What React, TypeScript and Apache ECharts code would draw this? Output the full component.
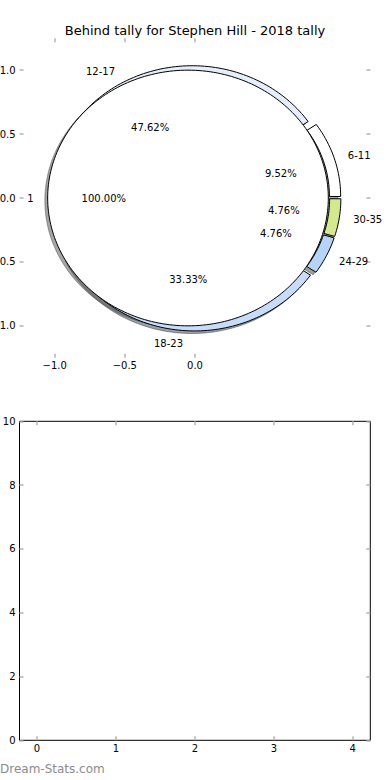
import React, { useEffect, useRef } from 'react';
import * as echarts from 'echarts';

// ---------- data ----------
const chartTitle = 'Behind tally for Stephen Hill - 2018 tally';
const outerLabels = ['6-11', '12-17', '18-23', '24-29', '30-35'];
const outerCounts = [2, 10, 7, 1, 1];
const innerLabels = ['1'];
const innerCounts = [21];
const pieXTicks = [-1, -0.5, 0];
const pieYTicks = [-1, -0.5, 0, 0.5, 1];
const lowerXTicks = [0, 1, 2, 3, 4];
const watermark = 'Dream-Stats.com';

// ---------- styles ----------
const outerColors = ['#ffffff', '#e6eefc', '#c6dcfa', '#b6d4f8', '#d4e98e'];
const innerColors = ['#ffffff'];
const FONT = 'DejaVu Sans';
const TICK_COLOR = '#b4b4b4';

type Ring = {
  labels: string[];
  counts: number[];
  colors: string[];
  radius: number;
  width: number;
  explode: number;
};

const outerRing: Ring = { labels: outerLabels, counts: outerCounts, colors: outerColors, radius: 1, width: 0.08, explode: 0.04 };
const innerRing: Ring = { labels: innerLabels, counts: innerCounts, colors: innerColors, radius: 1, width: 0, explode: 0.05 };
const SHADOW_OFFSET = [-0.02, -0.02];

function spans(counts: number[]) {
  const total = counts.reduce((a, b) => a + b, 0);
  let acc = 0;
  return counts.map((c) => {
    const t1 = (acc / total) * 360;
    acc += c;
    const t2 = (acc / total) * 360;
    return { t1, t2, frac: c / total };
  });
}

function wedgePoints(cx: number, cy: number, r: number, w: number, t1: number, t2: number) {
  const pts: number[][] = [];
  const n = Math.max(8, Math.ceil((t2 - t1) / 1.5));
  for (let k = 0; k <= n; k++) {
    const a = ((t1 + ((t2 - t1) * k) / n) * Math.PI) / 180;
    pts.push([cx + r * Math.cos(a), cy + r * Math.sin(a)]);
  }
  if (w > 0) {
    const ri = r - w;
    for (let k = n; k >= 0; k--) {
      const a = ((t1 + ((t2 - t1) * k) / n) * Math.PI) / 180;
      pts.push([cx + ri * Math.cos(a), cy + ri * Math.sin(a)]);
    }
  } else if (t2 - t1 < 359.999) {
    pts.push([cx, cy]);
  }
  return pts;
}

function shadowColor(hex: string) {
  const v = parseInt(hex.slice(1), 16);
  const r = Math.round(((v >> 16) & 255) * 0.3);
  const g = Math.round(((v >> 8) & 255) * 0.3);
  const b = Math.round((v & 255) * 0.3);
  return `rgba(${r},${g},${b},0.5)`;
}

function wedgeCenter(ring: Ring, i: number) {
  const s = spans(ring.counts)[i];
  const tm = (((s.t1 + s.t2) / 2) * Math.PI) / 180;
  return { cx: ring.explode * Math.cos(tm), cy: ring.explode * Math.sin(tm), tm, s };
}

function wedgeLayer(ring: Ring, shadow: boolean) {
  return {
    type: 'custom',
    xAxisIndex: 0,
    yAxisIndex: 0,
    clip: false,
    silent: true,
    z: 3,
    data: ring.counts.map((c) => [0, 0, c]),
    renderItem: (params: any, api: any) => {
      const i = params.dataIndex;
      const { cx, cy, s } = wedgeCenter(ring, i);
      const ox = shadow ? SHADOW_OFFSET[0] : 0;
      const oy = shadow ? SHADOW_OFFSET[1] : 0;
      const pts = wedgePoints(cx + ox, cy + oy, ring.radius, ring.width, s.t1, s.t2).map((p) => api.coord(p));
      const fill = shadow ? shadowColor(ring.colors[i]) : ring.colors[i];
      return {
        type: 'polygon',
        shape: { points: pts },
        style: { fill, stroke: shadow ? fill : '#000', lineWidth: 1 },
      };
    },
  };
}

function labelLayer(ring: Ring) {
  return {
    type: 'custom',
    xAxisIndex: 0,
    yAxisIndex: 0,
    clip: false,
    silent: true,
    z: 3,
    data: ring.counts.map((c) => [0, 0, c]),
    renderItem: (params: any, api: any) => {
      const i = params.dataIndex;
      const { cx, cy, tm, s } = wedgeCenter(ring, i);
      const lx = cx + 1.1 * ring.radius * Math.cos(tm);
      const ly = cy + 1.1 * ring.radius * Math.sin(tm);
      const px = cx + 0.6 * ring.radius * Math.cos(tm);
      const py = cy + 0.6 * ring.radius * Math.sin(tm);
      const lp = api.coord([lx, ly]);
      const pp = api.coord([px, py]);
      const align = lx > 0 ? 'left' : 'right';
      return {
        type: 'group',
        children: [
          {
            type: 'text',
            x: lp[0],
            y: lp[1],
            style: { text: ring.labels[i], fill: '#000', font: `10px "${FONT}"`, align, textAlign: align, verticalAlign: 'middle', textVerticalAlign: 'middle' },
          },
          {
            type: 'text',
            x: pp[0],
            y: pp[1],
            style: { text: (s.frac * 100).toFixed(2) + '%', fill: '#000', font: `10px "${FONT}"`, align: 'center', textAlign: 'center', verticalAlign: 'middle', textVerticalAlign: 'middle' },
          },
        ],
      };
    },
  };
}

const fmt1 = (v: number) => (v < 0 ? '\u2212' : '') + Math.abs(v).toFixed(1);

const labelStyle = { color: '#000', fontFamily: FONT, fontSize: 10 };
const hiddenLine = { show: false, onZero: false };
const tick = (values?: number[]) => ({
  show: true,
  inside: true,
  length: 4,
  lineStyle: { color: TICK_COLOR, width: 1.5 },
  ...(values ? { customValues: values } : {}),
});

export default function App() {
  const ref = useRef<HTMLDivElement>(null);
  useEffect(() => {
    if (!ref.current) return;
    const chart = echarts.init(ref.current, undefined, { renderer: 'svg' });
    const option: any = {
      animation: false,
      backgroundColor: '#fff',
      textStyle: { fontFamily: FONT },
      title: {
        text: chartTitle,
        left: 'center',
        top: 19,
        textStyle: { fontFamily: FONT, fontSize: 13, fontWeight: 'normal', color: '#000' },
      },
      grid: [
        { left: 19.6, top: 38.2, width: 350.8, height: 319.6, containLabel: false, outerBoundsMode: 'none', show: false },
        { left: 19.5, top: 421.3, width: 350.8, height: 319, containLabel: false, outerBoundsMode: 'none', show: true, borderColor: '#000', borderWidth: 1, backgroundColor: 'transparent' },
      ],
      xAxis: [
        { gridIndex: 0, type: 'value', position: 'bottom', min: -1.25, max: 1.25, axisLine: hiddenLine, axisTick: tick(pieXTicks), axisLabel: { ...labelStyle, margin: 3, formatter: fmt1, customValues: pieXTicks }, splitLine: { show: false } },
        { gridIndex: 0, type: 'value', position: 'top', min: -1.25, max: 1.25, axisLine: hiddenLine, axisTick: tick(pieXTicks), axisLabel: { show: false }, splitLine: { show: false } },
        { gridIndex: 1, type: 'value', position: 'bottom', min: -0.222, max: 4.222, axisLine: hiddenLine, axisTick: tick(lowerXTicks), axisLabel: { ...labelStyle, margin: 3, formatter: (v: number) => String(v), customValues: lowerXTicks }, splitLine: { show: false } },
        { gridIndex: 1, type: 'value', position: 'top', min: -0.222, max: 4.222, axisLine: hiddenLine, axisTick: tick(lowerXTicks), axisLabel: { show: false }, splitLine: { show: false } },
      ],
      yAxis: [
        { gridIndex: 0, type: 'value', position: 'left', min: -1.25, max: 1.25, axisLine: hiddenLine, axisTick: tick(pieYTicks), axisLabel: { ...labelStyle, margin: 4, formatter: fmt1, customValues: pieYTicks }, splitLine: { show: false } },
        { gridIndex: 0, type: 'value', position: 'right', min: -1.25, max: 1.25, axisLine: hiddenLine, axisTick: tick(pieYTicks), axisLabel: { show: false }, splitLine: { show: false } },
        { gridIndex: 1, type: 'value', position: 'left', min: 0, max: 10, interval: 2, axisLine: hiddenLine, axisTick: tick(), axisLabel: { ...labelStyle, margin: 4 }, splitLine: { show: false } },
        { gridIndex: 1, type: 'value', position: 'right', min: 0, max: 10, interval: 2, axisLine: hiddenLine, axisTick: tick(), axisLabel: { show: false }, splitLine: { show: false } },
      ],
      series: [
        wedgeLayer(outerRing, true),
        wedgeLayer(innerRing, true),
        wedgeLayer(outerRing, false),
        wedgeLayer(innerRing, false),
        labelLayer(outerRing),
        labelLayer(innerRing),
      ],
      graphic: [
        {
          type: 'text',
          left: 0,
          top: 763,
          style: { text: watermark, fill: '#8c8c8c', font: `12px "${FONT}"` },
        },
      ],
    };
    chart.setOption(option);
    return () => chart.dispose();
  }, []);
  return <div ref={ref} style={{ position: 'absolute', left: 0, top: 0, width: 390, height: 780 }} />;
}
